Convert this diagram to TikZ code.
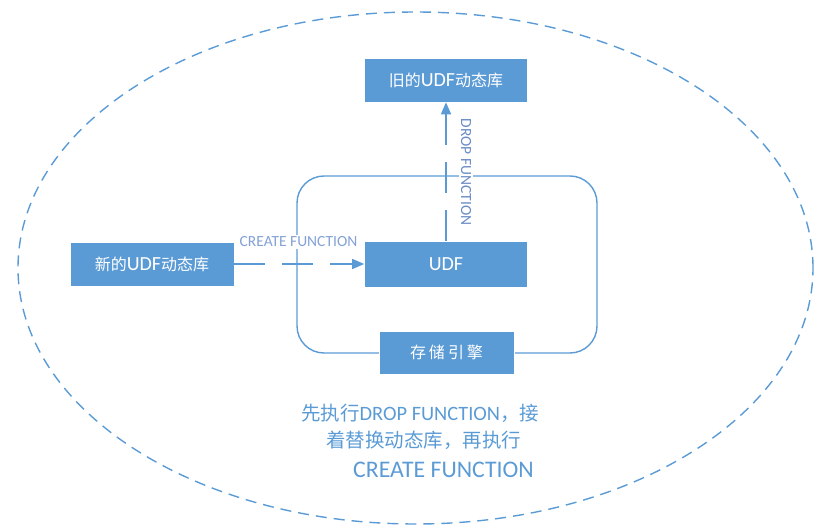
\documentclass[tikz,border=0pt]{standalone}
\usepackage{fontspec}
\setmainfont{Carlito}
\newfontfamily\cjk{Noto Sans CJK SC}
\usetikzlibrary{arrows.meta}
\definecolor{boxblue}{HTML}{5B9BD5}
\definecolor{lineblue}{HTML}{5B9BD5}
\definecolor{lblblue}{HTML}{84A2D6}
\definecolor{lbldark}{HTML}{6A8CC6}
\newcommand{\cj}[1]{{\cjk\fontsize{16}{20}\selectfont #1}}
\newcommand{\cn}[1]{{\cjk\fontsize{19.5}{24}\selectfont #1}}
\begin{document}
\begin{tikzpicture}[x=1pt,y=-1pt,
 box/.style={fill=boxblue, draw=white, line width=0.6pt, text=white, inner sep=0pt, font=\fontsize{20}{22}\selectfont},
 conn/.style={draw=lineblue, line width=1.5pt, dash pattern=on 31pt off 17pt, -{Triangle[length=12pt,width=10pt]}},
 lbl/.style={font=\fontsize{15.5}{18}\selectfont, inner sep=2pt, fill=white},
 note/.style={text=boxblue, inner sep=0pt, anchor=west},
 frame/.style={draw=lineblue, line width=1.4pt, rounded corners=27pt}]
\useasboundingbox (0,0) rectangle (831,532);
\draw[lineblue, line width=1.4pt, dash pattern=on 11pt off 7pt] (415.5,268) ellipse [x radius=397.5pt, y radius=256pt];
\node[frame, minimum width=300pt, minimum height=177pt] (fr) at (447,264.5) {};
\node[box, minimum width=163pt, minimum height=44pt] (old) at (446,80) {\cj{旧的}UDF\cj{动态库}};
\node[box, minimum width=164pt, minimum height=44pt] (new) at (152,264) {\cj{新的}UDF\cj{动态库}};
\node[box, minimum width=163pt, minimum height=46pt] (udf) at (446,264) {UDF};
\node[box, minimum width=135pt, minimum height=43pt] (eng) at (446.5,352.5) {\cj{存\kern3pt 储\kern3pt 引\kern3pt 擎}};
\draw[conn] (new.east) -- (udf.west);
\draw[conn] (udf.north) -- (old.south);
\node[lbl, text=lblblue] (cf) at (298.5,242) {CREATE FUNCTION};
\node[lbl, text=lbldark, rotate=-90] (df) at (466,172) {DROP FUNCTION};
\node[note, font=\fontsize{20.4}{24}\selectfont] (n1) at (301,413) {\cn{先执行}DROP FUNCTION\cn{，接}};
\node[note] (n2) at (326,440) {\cn{着替换动态库，再执行}};
\node[note, font=\fontsize{23.8}{26}\selectfont] (n3) at (353,470) {CREATE FUNCTION};
\end{tikzpicture}
\end{document}
